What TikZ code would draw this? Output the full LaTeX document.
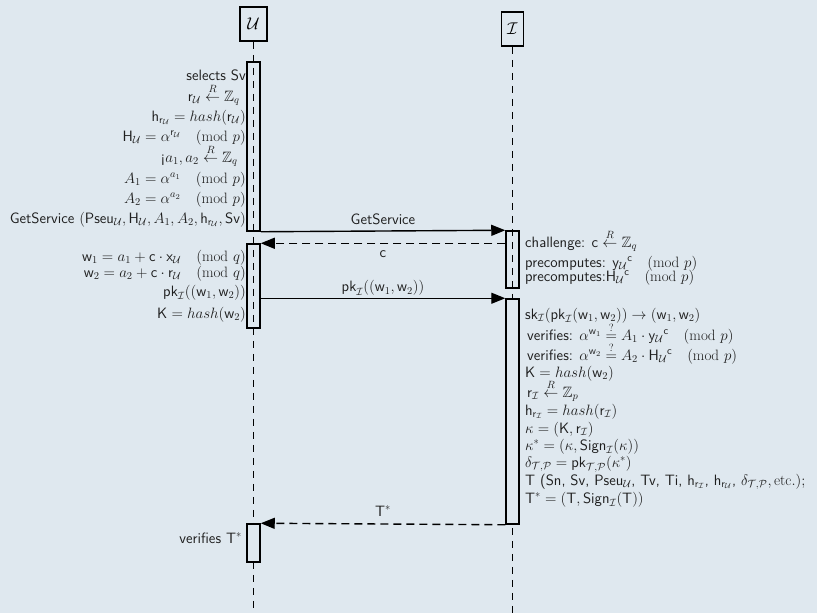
\RequirePackage{fix-cm}
\documentclass[tikz,border=0pt]{standalone}
\usepackage{amsmath,amssymb}
\usepackage{fontspec}
\usetikzlibrary{arrows.meta,calc}
\definecolor{bg}{HTML}{DFE8EF}
\definecolor{ink}{HTML}{1E1E1E}
\newcommand{\cU}{\mathcal{U}}
\newcommand{\cI}{\mathcal{I}}
\newcommand{\rgets}{\overset{R}{\leftarrow}}
\newcommand{\qeq}{\overset{?}{=}}
\newcommand{\sfs}[1]{\mathsf{#1}}
\newcommand{\md}[1]{\quad(\mathrm{mod}\ #1)}
\newcommand{\lblfont}{\fontsize{15}{18}\selectfont\sffamily}
\begin{document}
\begin{tikzpicture}[x=1pt,y=-1pt,
  lbl/.style={font=\lblfont, inner sep=0pt, text=ink},
  lt/.style={lbl, anchor=base east},
  rt/.style={lbl, anchor=base west},
  head/.style={draw, line width=1.5pt, minimum height=34pt, inner sep=0pt, font=\fontsize{17}{20}\selectfont},
  act/.style={draw, line width=1.5pt, minimum width=13pt, inner sep=0pt},
  actfill/.style={act, fill=bg},
  life/.style={line width=1.1pt, dash pattern=on 7pt off 6pt},
  msg/.style={line width=1.4pt, -{Triangle[length=14pt,width=11pt]}},
  reply/.style={msg, dash pattern=on 8pt off 5pt}]
\fill[bg] (0,0) rectangle (817,613);
\useasboundingbox (0,0) rectangle (817,613);

% headers
\node[head, minimum width=27pt] (U) at (253.5,24) {$\cU$};
\node[head, minimum width=22pt] (I) at (512.5,29) {$\cI$};
\coordinate (Uend) at (253.5,613);
\coordinate (Iend) at (512.5,613);
\draw[life] (U.south) -- (Uend);
\draw[life] (I.south) -- (Iend);

% activation boxes
\node[act, minimum height=169pt] (ua1) at (253.5,146.5) {};
\node[act, minimum height=84pt] (ua2) at (253.5,286) {};
\node[actfill, minimum height=38pt] (ua3) at (253.5,543) {};
\node[act, minimum height=57pt] (ia1) at (512.5,259.5) {};
\node[actfill, minimum height=225pt] (ia2) at (512.5,411.5) {};

% messages
\draw[msg] (ua1.south east) -- node[lbl, above=5pt] {GetService} (ia1.north west);
\draw[reply] (ia1.west |- ua2.north) -- node[lbl, below=7pt] {c} (ua2.north east);
\draw[msg] (ua2.east |- ia2.north) -- node[lbl, above=2pt] {$\sfs{pk}_{\cI}((\sfs{w}_1,\sfs{w}_2))$} (ia2.north west);
\draw[reply] (ia2.south west) -- node[lbl, above=7pt] {T$^*$} (ua3.north east);

% left labels (baselines)
\node[lt] (l1) at (246,80) {selects Sv};
\node[lt] (l2) at (240,101) {$\smash{\sfs{r}_{\cU} \rgets \mathbb{Z}_q}$};
\node[lt] (l3) at (246,121) {$\sfs{h}_{\sfs{r}_{\cU}} = hash(\sfs{r}_{\cU})$};
\node[lt] (l4) at (246,141) {$\sfs{H}_{\cU} = \alpha^{\sfs{r}_{\cU}} \md{p}$};
\node[lt] (l5) at (238,162) {\textexclamdown$\smash{a_1, a_2 \rgets \mathbb{Z}_q}$};
\node[lt] (l6) at (246,183) {$A_1 = \alpha^{a_1} \md{p}$};
\node[lt] (l7) at (246,203) {$A_2 = \alpha^{a_2} \md{p}$};
\node[lt] (l8) at (246,223) {GetService $(\sfs{Pseu}_{\cU}, \sfs{H}_{\cU}, A_1, A_2, \sfs{h}_{\sfs{r}_{\cU}}, \sfs{Sv})$};
\node[lt] (l9) at (246,261) {$\sfs{w}_1 = a_1 + \sfs{c}\cdot\sfs{x}_{\cU} \md{q}$};
\node[lt] (l10) at (246,277) {$\sfs{w}_2 = a_2 + \sfs{c}\cdot\sfs{r}_{\cU} \md{q}$};
\node[lt] (l11) at (246,296) {$\sfs{pk}_{\cI}((\sfs{w}_1,\sfs{w}_2))$};
\node[lt] (l12) at (246,318) {$\sfs{K} = hash(\sfs{w}_2)$};
\node[lt] (l13) at (242,543) {verifies T$^*$};

% right labels (baselines)
\node[rt] (r1) at (525,247) {challenge: $\smash{\sfs{c} \rgets \mathbb{Z}_q}$};
\node[rt] (r2) at (525,267) {precomputes: $\sfs{y}_{\cU}{}^{\sfs{c}} \md{p}$};
\node[rt] (r3) at (525,281) {precomputes:$\sfs{H}_{\cU}{}^{\sfs{c}} \md{p}$};
\node[rt] (r4) at (525,319) {$\sfs{sk}_{\cI}(\sfs{pk}_{\cI}(\sfs{w}_1,\sfs{w}_2)) \rightarrow (\sfs{w}_1,\sfs{w}_2)$};
\node[rt] (r5) at (527,340) {verifies: $\smash{\alpha^{\sfs{w}_1} \qeq A_1\cdot \sfs{y}_{\cU}{}^{\sfs{c}} \md{p}}$};
\node[rt] (r6) at (527,360) {verifies: $\smash{\alpha^{\sfs{w}_2} \qeq A_2\cdot \sfs{H}_{\cU}{}^{\sfs{c}} \md{p}}$};
\node[rt] (r7) at (525,377) {$\sfs{K} = hash(\sfs{w}_2)$};
\node[rt] (r8) at (527,397) {$\smash{\sfs{r}_{\cI} \rgets \mathbb{Z}_p}$};
\node[rt] (r9) at (525,415) {$\sfs{h}_{\sfs{r}_{\cI}} = hash(\sfs{r}_{\cI})$};
\node[rt] (r10) at (525,433) {$\kappa = (\sfs{K}, \sfs{r}_{\cI})$};
\node[rt] (r11) at (525,450) {$\kappa^* = (\kappa, \sfs{Sign}_{\cI}(\kappa))$};
\node[rt] (r12) at (525,467) {$\delta_{\mathcal{T},\mathcal{P}} = \sfs{pk}_{\mathcal{T},\mathcal{P}}(\kappa^*)$};
\node[rt] (r13) at (525,485) {T (Sn, Sv, Pseu$_{\cU}$, Tv, Ti, $\sfs{h}_{\sfs{r}_{\cI}}$, $\sfs{h}_{\sfs{r}_{\cU}}$, $\delta_{\mathcal{T},\mathcal{P}}, \mathrm{etc.});$};
\node[rt] (r14) at (525,503) {$\sfs{T}^* = (\sfs{T}, \sfs{Sign}_{\cI}(\sfs{T}))$};
\end{tikzpicture}
\end{document}
